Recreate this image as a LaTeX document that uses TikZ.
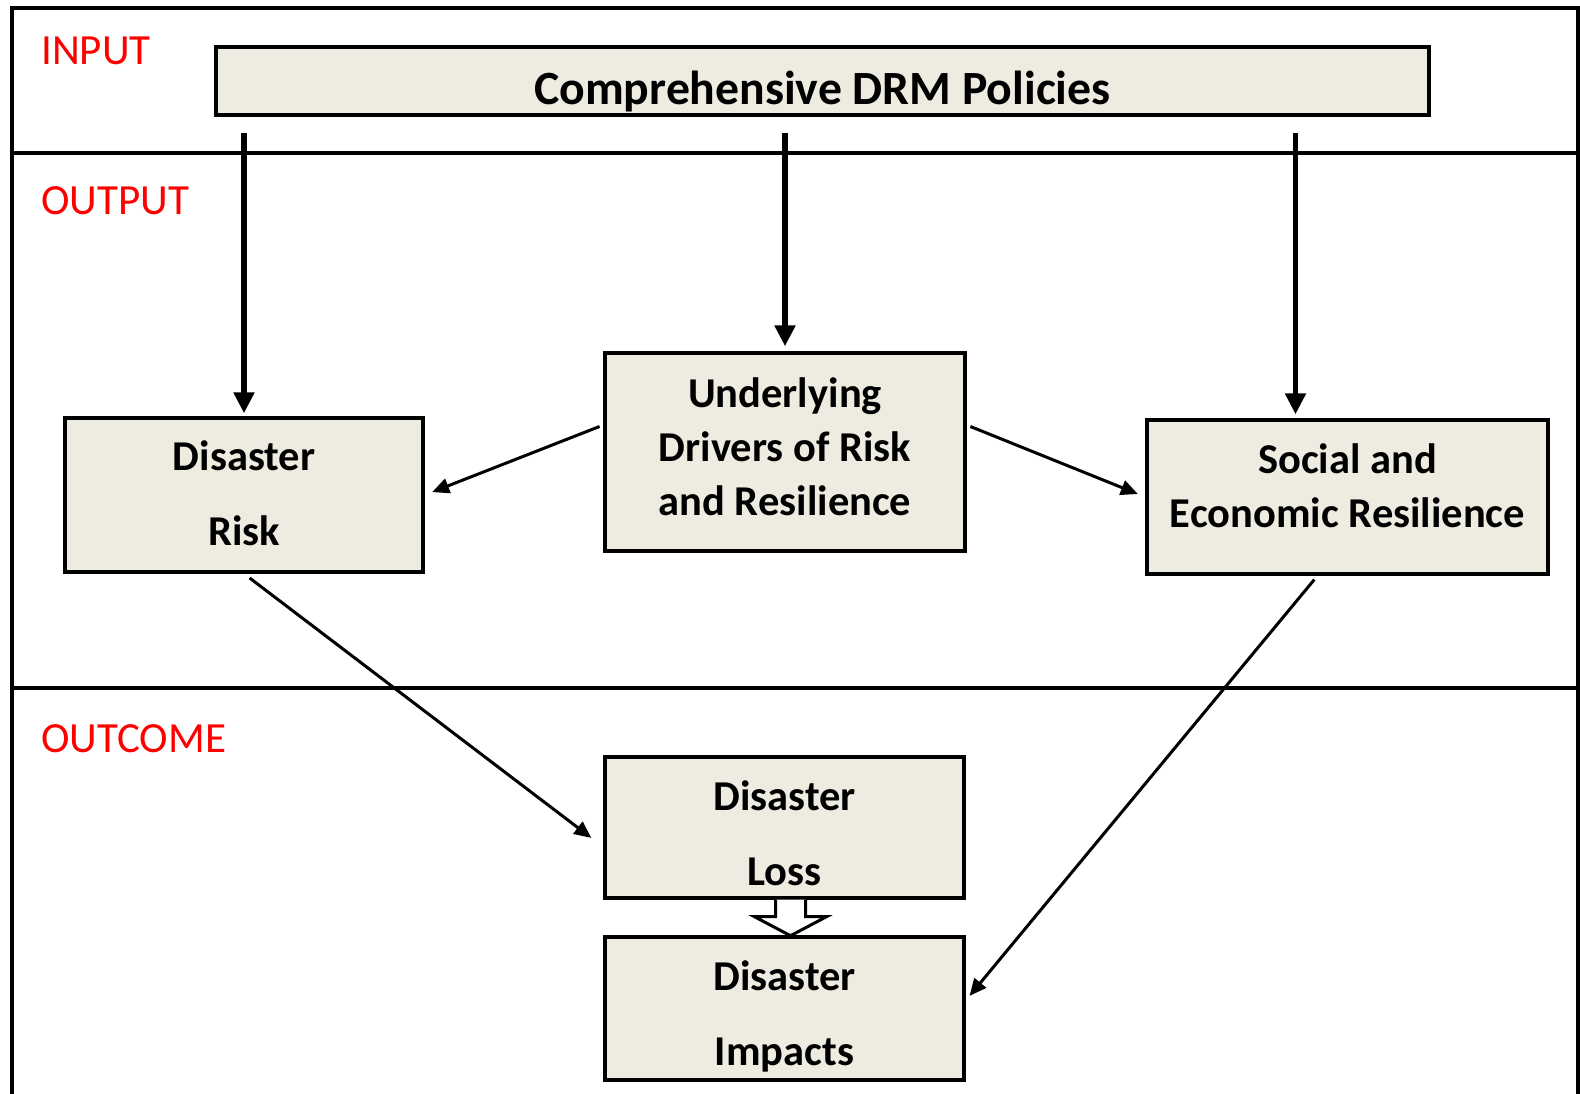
\documentclass[tikz,border=0pt]{standalone}
\usepackage{fontspec}
\setmainfont{Carlito}
\usepackage{xcolor}
\usepackage{tikz}
\usetikzlibrary{arrows.meta}

\tikzset{
  drmbox/.style={draw, line width=3.4pt, fill={rgb, 255:red, 238; green, 236; blue, 225}, align=center, inner sep=0pt, text depth=0pt, font=\bfseries\fontsize{42.5}{54}\selectfont},
  phase/.style={anchor=west, inner sep=0pt, text={rgb, 255:red, 255; green, 0; blue, 0}, font=\fontsize{43}{50}\selectfont},
  bigarrow/.style={line width=5.5pt, -{Triangle[length=21pt,width=20pt]}},
  thinarrow/.style={line width=3pt, -{Triangle[length=17pt,width=15pt]}},
}

\begin{document}
\begin{tikzpicture}[x=1pt,y=1pt,yscale=-1,xscale=1]
\useasboundingbox (0,0) rectangle (1580,1093);

%Frame and bands
\draw [line width=4.5pt] (12,1100) -- (12,8) -- (1578,8) -- (1578,1100) ;
\draw [line width=4.5pt] (12,153) -- (1578,153) ;
\draw [line width=4.5pt] (12,688) -- (1578,688) ;

% Text Node
\node [phase] (input) at (41,51) {INPUT};
% Text Node
\node [phase] (output) at (41,201) {OUTPUT};
% Text Node
\node [phase] (outcome) at (41,739) {OUTCOME};

%Boxes
\node [drmbox, minimum width=1213pt, minimum height=68pt, text height=46pt, font=\bfseries\fontsize{47.7}{54}\selectfont] (policies) at (822.5,81) {Comprehensive DRM Policies};
\node [drmbox, minimum width=358pt, minimum height=154pt, text height=101pt] (risk) at (244,495) {Disaster\\[21pt]Risk};
\node [drmbox, minimum width=360pt, minimum height=198pt, text height=127pt] (drivers) at (785,452) {Underlying\\Drivers of Risk\\and Resilience};
\node [drmbox, minimum width=401pt, minimum height=154pt, text height=61pt] (resilience) at (1347.5,497) {Social and\\Economic Resilience};
\node [drmbox, minimum width=359pt, minimum height=141pt, text height=116pt] (loss) at (784.5,827.5) {Disaster\\[21pt]Loss};
\node [drmbox, minimum width=359pt, minimum height=143pt, text height=114pt] (impacts) at (784.5,1008.5) {Disaster\\[21pt]Impacts};

%Policy arrows
\coordinate (resin) at ([xshift=-52pt]resilience.north);
\draw [bigarrow, shorten <=16pt, shorten >=3pt] (policies.south -| risk.north) -- (risk.north);
\draw [bigarrow, shorten <=16pt, shorten >=5pt] (policies.south -| drivers.north) -- (drivers.north);
\draw [bigarrow, shorten <=16pt, shorten >=4pt] (policies.south -| resin) -- (resin);

%Straight Lines
\draw [thinarrow, shorten <=4pt, shorten >=8pt] ([yshift=-27pt]drivers.west) -- (risk.east);
\draw [thinarrow, shorten <=4pt, shorten >=8pt] ([yshift=-27pt]drivers.east) -- (resilience.west);
\draw [thinarrow, shorten <=7pt, shorten >=15pt] (risk.south) -- ([yshift=19.5pt]loss.west);
\draw [thinarrow, shorten <=5pt, shorten >=6pt] ([xshift=-30pt]resilience.south) -- ([yshift=-8pt]impacts.east);

%Hollow arrow
\draw [line width=3pt, fill=white, line join=miter] ([xshift=-9pt]loss.south) -- ++(0,17) -- ++(-21,0) -- ++(36,19) -- ++(36,-19) -- ++(-21,0) -- ++(0,-17) ;
\end{tikzpicture}
\end{document}
